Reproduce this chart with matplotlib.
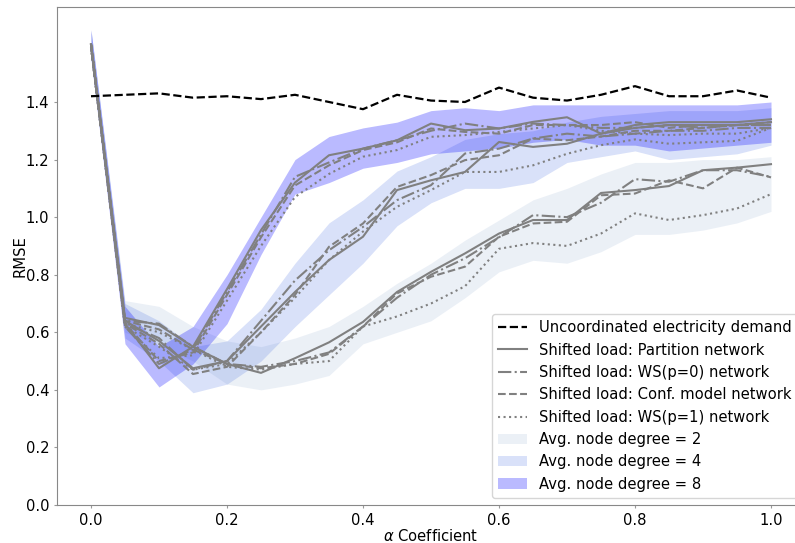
import numpy as np
import matplotlib
matplotlib.use('Agg')
import matplotlib.pyplot as plt

# alpha coefficient grid
alpha = [0.0, 0.05, 0.1, 0.15, 0.2, 0.25, 0.3, 0.35, 0.4, 0.45, 0.5,
         0.55, 0.6, 0.65, 0.7, 0.75, 0.8, 0.85, 0.9, 0.95, 1.0]

uncoord = [1.42, 1.425, 1.43, 1.415, 1.42, 1.41, 1.425, 1.40, 1.375, 1.425, 1.405,
           1.40, 1.45, 1.415, 1.405, 1.425, 1.455, 1.42, 1.42, 1.44, 1.415]

# avg. node degree = 8
solid8 = [1.60, 0.63, 0.475, 0.55, 0.75, 0.955, 1.12, 1.215, 1.238, 1.267, 1.325,
          1.302, 1.308, 1.331, 1.347, 1.29, 1.32, 1.33, 1.33, 1.33, 1.34]
dashdot8 = [1.60, 0.62, 0.49, 0.54, 0.74, 0.94, 1.14, 1.19, 1.238, 1.267, 1.30,
            1.325, 1.308, 1.325, 1.32, 1.31, 1.31, 1.32, 1.31, 1.32, 1.32]
dashed8 = [1.60, 0.63, 0.50, 0.53, 0.73, 0.93, 1.11, 1.18, 1.233, 1.26, 1.308,
           1.296, 1.29, 1.32, 1.32, 1.32, 1.33, 1.31, 1.32, 1.32, 1.33]
dotted8 = [1.59, 0.62, 0.51, 0.52, 0.71, 0.90, 1.07, 1.15, 1.21, 1.233, 1.279,
           1.285, 1.296, 1.308, 1.32, 1.30, 1.29, 1.285, 1.29, 1.29, 1.31]

# avg. node degree = 4
solid4 = [1.60, 0.64, 0.57, 0.475, 0.50, 0.62, 0.74, 0.851, 0.932, 1.094, 1.128,
          1.157, 1.261, 1.244, 1.255, 1.29, 1.31, 1.32, 1.32, 1.32, 1.33]
dashdot4 = [1.60, 0.63, 0.58, 0.47, 0.50, 0.64, 0.78, 0.885, 0.966, 1.059, 1.111,
            1.221, 1.238, 1.273, 1.29, 1.28, 1.29, 1.30, 1.30, 1.31, 1.31]
dashed4 = [1.60, 0.63, 0.56, 0.455, 0.48, 0.60, 0.73, 0.897, 0.978, 1.105, 1.146,
           1.198, 1.215, 1.273, 1.267, 1.28, 1.30, 1.30, 1.31, 1.32, 1.32]
dotted4 = [1.59, 0.62, 0.55, 0.47, 0.49, 0.60, 0.72, 0.851, 0.95, 1.036, 1.094,
           1.157, 1.157, 1.18, 1.22, 1.25, 1.27, 1.255, 1.26, 1.265, 1.31]

# avg. node degree = 2
solid2 = [1.60, 0.65, 0.625, 0.55, 0.49, 0.459, 0.51, 0.565, 0.636, 0.74, 0.81,
          0.874, 0.943, 0.99, 0.99, 1.084, 1.094, 1.108, 1.163, 1.172, 1.184]
dashdot2 = [1.60, 0.64, 0.63, 0.55, 0.49, 0.48, 0.50, 0.53, 0.62, 0.72, 0.80,
            0.857, 0.93, 1.007, 1.0, 1.05, 1.132, 1.123, 1.163, 1.163, 1.14]
dashed2 = [1.60, 0.64, 0.61, 0.54, 0.49, 0.475, 0.49, 0.525, 0.62, 0.735, 0.793,
           0.828, 0.932, 0.978, 0.984, 1.076, 1.082, 1.128, 1.10, 1.172, 1.138]
dotted2 = [1.59, 0.63, 0.60, 0.54, 0.48, 0.47, 0.49, 0.50, 0.62, 0.655, 0.70,
           0.76, 0.89, 0.91, 0.90, 0.943, 1.013, 0.99, 1.007, 1.03, 1.08]

# spread bands
band2_lo = [1.55, 0.60, 0.56, 0.50, 0.42, 0.40, 0.42, 0.45, 0.56, 0.60, 0.64,
            0.72, 0.81, 0.85, 0.84, 0.88, 0.94, 0.94, 0.955, 0.98, 1.02]
band2_hi = [1.65, 0.71, 0.69, 0.62, 0.57, 0.55, 0.58, 0.62, 0.69, 0.77, 0.84,
            0.92, 0.99, 1.06, 1.10, 1.15, 1.19, 1.19, 1.20, 1.20, 1.21]
band4_lo = [1.55, 0.58, 0.50, 0.39, 0.42, 0.50, 0.62, 0.73, 0.84, 0.97, 1.05,
            1.10, 1.10, 1.12, 1.19, 1.21, 1.23, 1.20, 1.21, 1.22, 1.25]
band4_hi = [1.65, 0.70, 0.64, 0.55, 0.57, 0.68, 0.84, 0.98, 1.06, 1.16, 1.21,
            1.27, 1.29, 1.30, 1.33, 1.35, 1.36, 1.37, 1.37, 1.37, 1.38]
band8_lo = [1.55, 0.56, 0.41, 0.49, 0.63, 0.87, 1.08, 1.12, 1.17, 1.19, 1.22,
            1.23, 1.24, 1.26, 1.27, 1.25, 1.25, 1.23, 1.24, 1.25, 1.26]
band8_hi = [1.65, 0.69, 0.55, 0.62, 0.80, 1.00, 1.20, 1.28, 1.31, 1.33, 1.37,
            1.38, 1.37, 1.39, 1.39, 1.39, 1.39, 1.39, 1.39, 1.39, 1.40]

fs = 10.6
fig = plt.figure(figsize=(7.95, 5.43), dpi=100)
ax = fig.add_axes([57/795, 38/543, 748/795, 498/543])

b2 = ax.fill_between(alpha, band2_lo, band2_hi, color='lightsteelblue', alpha=0.25, lw=0,
                     label='Avg. node degree = 2')
b4 = ax.fill_between(alpha, band4_lo, band4_hi, color='royalblue', alpha=0.2, lw=0,
                     label='Avg. node degree = 4')
b8 = ax.fill_between(alpha, band8_lo, band8_hi, color='blue', alpha=0.27, lw=0,
                     label='Avg. node degree = 8')

lw = 1.5
styles = ['-', '-.', '--', ':']
names = ['Shifted load: Partition network', 'Shifted load: WS(p=0) network',
         'Shifted load: Conf. model network', 'Shifted load: WS(p=1) network']
groups = [
    [solid2, dashdot2, dashed2, dotted2],
    [solid4, dashdot4, dashed4, dotted4],
    [solid8, dashdot8, dashed8, dotted8],
]
line_handles = []
for g, series in enumerate(groups):
    for k, y in enumerate(series):
        ln, = ax.plot(alpha, y, color='gray', ls=styles[k], lw=lw)
        if g == 0:
            ln.set_label(names[k])
            line_handles.append(ln)

h0, = ax.plot(alpha, uncoord, color='black', ls='--', lw=1.6,
              label='Uncoordinated electricity demand')

ax.set_xlim(-0.05, 1.05)
ax.set_ylim(0, 1.73)
ax.set_yticks(np.arange(0, 1.41, 0.2))
ax.set_xticks(np.arange(0, 1.01, 0.2))
ax.tick_params(labelsize=fs, color='#999999', length=2.5, pad=3)
for sp in ax.spines.values():
    sp.set_color('#888888')

ax.set_xlabel(r'$\alpha$ Coefficient', fontsize=fs, labelpad=0)
ax.set_ylabel('RMSE', fontsize=fs, labelpad=-1.5)

ax.legend(handles=[h0] + line_handles + [b2, b4, b8], loc='lower right', fontsize=fs)

fig.savefig('out.png', dpi=100)
plt.close(fig)
